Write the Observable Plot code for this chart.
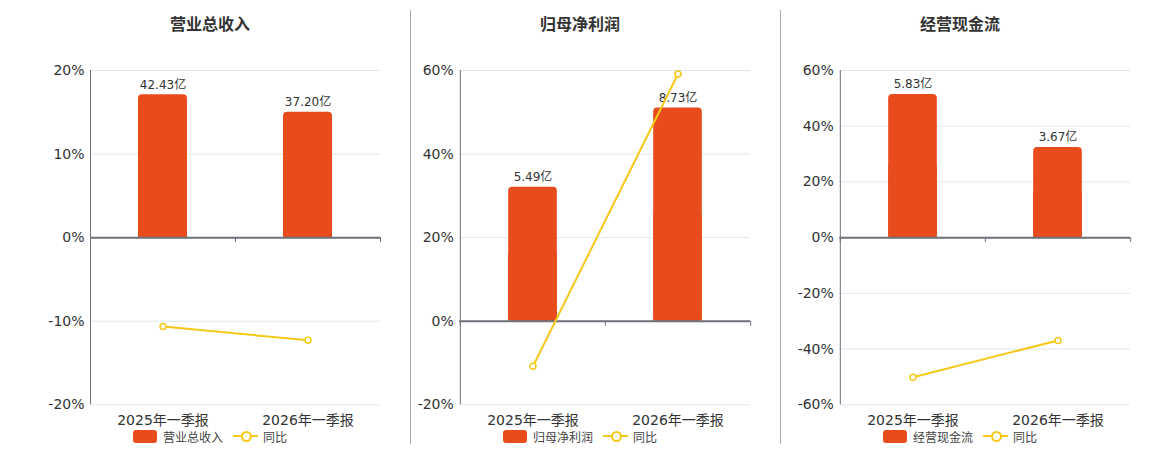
<!DOCTYPE html>
<html>
<head>
<meta charset="utf-8">
<script src="https://cdn.jsdelivr.net/npm/d3@7"></script>
<script src="https://cdn.jsdelivr.net/npm/@observablehq/plot@0.6"></script>
<style>
  html, body { margin: 0; padding: 0; background: #fff; }
  #root { position: relative; width: 1160px; height: 450px; overflow: hidden;
          font-family: "DejaVu Sans", "Noto Sans CJK SC", sans-serif; color: #333; }
  .panel-svg { position: absolute; top: 0; }
  .title { position: absolute; top: 12px; transform: translateX(-50%); font-size: 16px; font-weight: bold;
           font-family: "Noto Sans CJK SC", sans-serif; color: #333; white-space: nowrap; line-height: 22px; }
  .legend { position: absolute; top: 428px; transform: translateX(-50%); display: flex; align-items: center;
            font-size: 12px; font-family: "Noto Sans CJK SC", sans-serif; color: #444; white-space: nowrap; height: 16px; }
  .sw { width: 24px; height: 13px; border-radius: 3px; margin-right: 6px; }
  .ln { position: relative; width: 25px; height: 13px; margin-left: 10px; margin-right: 5px; }
  .ln::before { content: ""; position: absolute; left: 0; right: 0; top: 5.5px; height: 2px; background: var(--c); }
  .ln::after { content: ""; position: absolute; left: 7.5px; top: 1.5px; width: 7px; height: 7px; border-radius: 50%;
               border: 2px solid var(--c); background: #fff; }
  .sep { position: absolute; top: 10px; width: 1px; height: 434px; background: #aaa; }
</style>
</head>
<body>
<div id="root"></div>
<script>
// ---- data ----
const categories = ["2025年一季报", "2026年一季报"];
const titles = ["营业总收入", "归母净利润", "经营现金流"];
const revenue = [42.43, 37.20];
const revenueYoY = [-10.63, -12.28];
const profit = [5.49, 8.73];
const profitYoY = [-10.78, 59.16];
const cashflow = [5.83, 3.67];
const cashflowYoY = [-50.1, -36.9];
const yDomains = [[-20, 20], [-20, 60], [-60, 60]];
const yTicks = [[-20, -10, 0, 10, 20], [-20, 0, 20, 40, 60], [-60, -40, -20, 0, 20, 40, 60]];
const barAxisMax = [49.6, 10.27, 6.81]; // bar (亿) value aligned with the top of the % axis
const legendYoY = "同比";

// ---- style / layout ----
const barColor = "#E84B1C";
const lineColor = "#F4C818";
const axisColor = "#6E7079";
const gridColor = "#E0E6F1";
const font = "'DejaVu Sans', 'Noto Sans CJK SC', sans-serif";
const panels = [
  {left: 0, width: 410, marginLeft: 90, center: 210, bars: revenue, yoy: revenueYoY},
  {left: 410, width: 370, marginLeft: 49.3, center: 580, bars: profit, yoy: profitYoY},
  {left: 780, width: 380, marginLeft: 59.3, center: 960, bars: cashflow, yoy: cashflowYoY}
];
const marginRight = 30, marginTop = 70, marginBottom = 45.7, H = 450;

const root = document.getElementById("root");

panels.forEach((p, i) => {
  const yMax = yDomains[i][1];
  const data = categories.map((c, j) => ({
    cat: c, value: p.bars[j], bary: p.bars[j] / barAxisMax[i] * yMax, yoy: p.yoy[j]
  }));
  const plotW = p.width - p.marginLeft - marginRight;
  const half = plotW / categories.length / 2;
  const inset = half - 24.5;

  const chart = Plot.plot({
    width: p.width, height: H,
    marginLeft: p.marginLeft, marginRight, marginTop, marginBottom,
    style: {fontFamily: font, fontSize: "14px", color: "#333", background: "transparent", overflow: "visible"},
    x: {type: "band", domain: categories, padding: 0, axis: null},
    y: {domain: yDomains[i], label: null},
    marks: [
      Plot.ruleY(yTicks[i], {stroke: gridColor, strokeWidth: 1}),
      Plot.axisY(yTicks[i], {tickSize: 0, tickPadding: 6, tickFormat: d => d + "%", fontSize: 14, fill: "#333", label: null}),
      Plot.ruleX([categories[0]], {dx: -half, y1: yDomains[i][0], y2: yDomains[i][1], stroke: axisColor, strokeWidth: 1}),
      Plot.barY(data, {x: "cat", y: "bary", fill: barColor, rx: 4, insetLeft: inset, insetRight: inset}),
      Plot.barY(data, {x: "cat", y: d => d.bary / 2, fill: barColor, insetLeft: inset, insetRight: inset}),
      Plot.ruleY([0], {stroke: axisColor, strokeWidth: 2}),
      Plot.ruleX(categories, {x: d => d, dx: -half, y1: 0, y2: 0, insetBottom: -5, stroke: axisColor}),
      Plot.ruleX([categories[categories.length - 1]], {x: d => d, dx: half, y1: 0, y2: 0, insetBottom: -5, stroke: axisColor}),
      Plot.text(data, {x: "cat", y: "bary", text: d => d.value.toFixed(2) + "亿", dy: -10, fontSize: 12, fill: "#333", lineAnchor: "middle"}),
      Plot.text(categories, {x: d => d, frameAnchor: "bottom", dy: 16, lineAnchor: "middle", fontSize: 14, fill: "#333"}),
      Plot.line(data, {x: "cat", y: "yoy", stroke: lineColor, strokeWidth: 2}),
      Plot.dot(data, {x: "cat", y: "yoy", r: 3, fill: "#fff", stroke: lineColor, strokeWidth: 1.5})
    ]
  });
  chart.classList.add("panel-svg");
  chart.style.left = p.left + "px";
  root.appendChild(chart);

  const t = document.createElement("div");
  t.className = "title";
  t.style.left = p.center + "px";
  t.textContent = titles[i];
  root.appendChild(t);

  const lg = document.createElement("div");
  lg.className = "legend";
  lg.style.left = p.center + "px";
  lg.innerHTML = `<div class="sw" style="background:${barColor}"></div><span>${titles[i]}</span>` +
                 `<div class="ln" style="--c:${lineColor}"></div><span>${legendYoY}</span>`;
  root.appendChild(lg);

  if (i > 0) {
    const s = document.createElement("div");
    s.className = "sep";
    s.style.left = p.left + "px";
    root.appendChild(s);
  }
});
</script>
</body>
</html>
